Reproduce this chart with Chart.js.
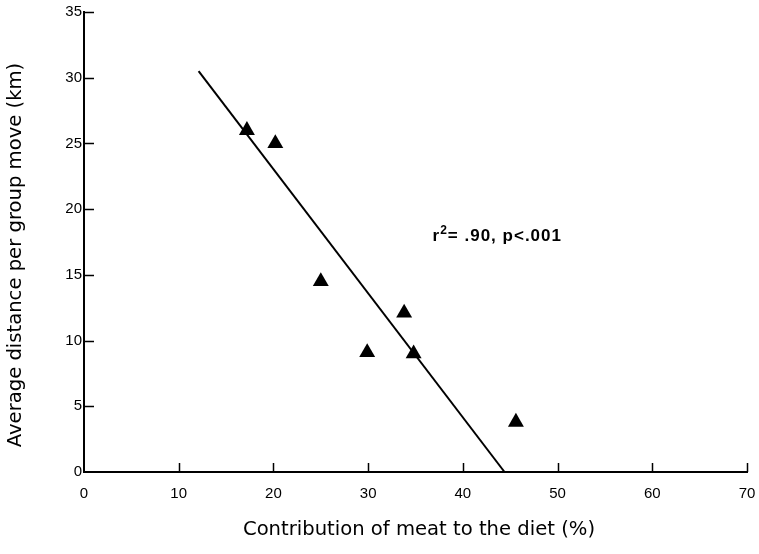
<!DOCTYPE html>
<html>
<head>
<meta charset="utf-8">
<script src="https://cdn.jsdelivr.net/npm/chart.js@4"></script>
<style>
  html, body { margin: 0; padding: 0; background: #fff; }
  #wrap { width: 759px; height: 554px; }
</style>
</head>
<body>
<div id="wrap"><canvas id="meatChart" width="759" height="554"></canvas></div>
<script>
// Meat share of diet vs. distance moved per group relocation
const meatShare = [17.2, 20.2, 25.0, 29.9, 33.8, 34.8, 45.6];
const moveDistance = [26.0, 25.0, 14.5, 9.1, 12.1, 9.0, 3.8];

// least-squares fit, drawn as a segment
const fitX = [12.1, 44.4];
const fitY = [30.5, 0];

const xTicks = [0, 10, 20, 30, 40, 50, 60, 70];
const yTicks = [0, 5, 10, 15, 20, 25, 30, 35];

const xTitle = "Contribution of meat to the diet (%)";
const yTitle = "Average distance per group move (km)";
const statsNote = { base: "r", sup: "2", rest: "= .90, p<.001", at: [36.8, 17.6] };

const TICK_FONT = { family: "'Liberation Sans', Arial, sans-serif", size: 15 };
const TITLE_FONT = "19.6px 'DejaVu Sans', sans-serif";

// inward tick marks: up from the x axis, right from the y axis
const innerTicks = {
  id: "innerTicks",
  afterDraw(chart) {
    const { ctx, scales: { x, y } } = chart;
    ctx.save();
    ctx.strokeStyle = "#000";
    ctx.lineWidth = 1.5;
    ctx.beginPath();
    xTicks.slice(1).forEach(v => {
      const px = Math.round(x.getPixelForValue(v)) + 0.5;
      ctx.moveTo(px, y.bottom);
      ctx.lineTo(px, y.bottom - 9);
    });
    yTicks.slice(1).forEach(v => {
      const py = Math.round(y.getPixelForValue(v)) + 0.5;
      ctx.moveTo(x.left, py);
      ctx.lineTo(x.left + 10, py);
    });
    ctx.stroke();
    ctx.restore();
  }
};

// axis titles, placed from the chart area
const axisTitles = {
  id: "axisTitles",
  afterDraw(chart) {
    const { ctx, chartArea: a, height } = chart;
    ctx.save();
    ctx.fillStyle = "#000";
    ctx.font = TITLE_FONT;
    ctx.textAlign = "center";
    ctx.textBaseline = "middle";
    ctx.fillText(xTitle, (a.left + a.right) / 2 + 3.5, height - 24);
    ctx.translate(16, (a.top + a.bottom) / 2 + 13);
    ctx.rotate(-Math.PI / 2);
    ctx.fillText(yTitle, 0, 0);
    ctx.restore();
  }
};

const noteLabel = {
  id: "noteLabel",
  afterDatasetsDraw(chart) {
    const { ctx, scales: { x, y } } = chart;
    let px = x.getPixelForValue(statsNote.at[0]);
    const py = y.getPixelForValue(statsNote.at[1]);
    ctx.save();
    ctx.fillStyle = "#000";
    ctx.textBaseline = "alphabetic";
    ctx.letterSpacing = "1px";
    ctx.font = "bold 17px 'Liberation Sans', Arial, sans-serif";
    ctx.fillText(statsNote.base, px, py);
    px += ctx.measureText(statsNote.base).width;
    ctx.font = "bold 12px 'Liberation Sans', Arial, sans-serif";
    ctx.fillText(statsNote.sup, px, py - 7);
    px += ctx.measureText(statsNote.sup).width;
    ctx.font = "bold 17px 'Liberation Sans', Arial, sans-serif";
    ctx.fillText(statsNote.rest, px, py);
    ctx.restore();
  }
};

new Chart(document.getElementById("meatChart"), {
  type: "scatter",
  data: {
    datasets: [
      {
        data: meatShare.map((v, i) => ({ x: v, y: moveDistance[i] })),
        pointStyle: "triangle",
        pointRadius: 9.2,
        pointHoverRadius: 9.2,
        backgroundColor: "#000",
        borderColor: "#000",
        borderWidth: 0
      },
      {
        type: "line",
        data: fitX.map((v, i) => ({ x: v, y: fitY[i] })),
        borderColor: "#000",
        borderWidth: 2,
        pointRadius: 0,
        fill: false,
        clip: false
      }
    ]
  },
  options: {
    responsive: false,
    animation: false,
    events: [],
    layout: { padding: { left: 0, top: 12, right: 12, bottom: 0 } },
    plugins: {
      legend: { display: false },
      tooltip: { enabled: false }
    },
    scales: {
      x: {
        type: "linear",
        min: 0,
        max: 70,
        afterFit: s => { s.height = 82; s.paddingLeft = 0; s.paddingRight = 0; },
        afterBuildTicks: s => { s.ticks = xTicks.map(v => ({ value: v })); },
        grid: { display: false, drawTicks: false },
        border: { display: true, color: "#000", width: 2 },
        ticks: { color: "#000", font: TICK_FONT, padding: 13, maxRotation: 0 },
        title: { display: false }
      },
      y: {
        type: "linear",
        min: 0,
        max: 35,
        afterFit: s => { s.width = 84; s.paddingTop = 0; s.paddingBottom = 0; },
        afterBuildTicks: s => { s.ticks = yTicks.map(v => ({ value: v })); },
        grid: { display: false, drawTicks: false },
        border: { display: true, color: "#000", width: 2 },
        ticks: { color: "#000", font: TICK_FONT, padding: 2 },
        title: { display: false }
      }
    }
  },
  plugins: [innerTicks, axisTitles, noteLabel]
});
</script>
</body>
</html>
